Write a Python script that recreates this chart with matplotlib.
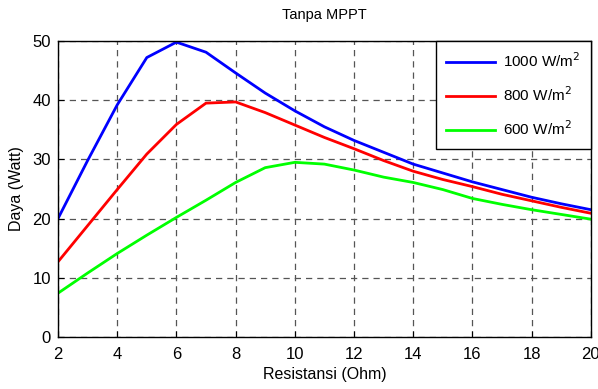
import matplotlib
matplotlib.use("Agg")
import matplotlib.pyplot as plt

plt.rcParams['font.family'] = ['Liberation Sans', 'DejaVu Sans']

resistance = list(range(2, 21))
p1000 = [20.0, 29.8, 39.2, 47.2, 49.8, 48.1, 44.6, 41.2, 38.2, 35.5, 33.2, 31.2, 29.2, 27.7, 26.2, 24.9, 23.6, 22.5, 21.5]
p800 = [12.7, 18.8, 24.9, 30.9, 35.9, 39.5, 39.7, 37.9, 35.8, 33.7, 31.8, 29.8, 28.0, 26.6, 25.4, 24.1, 23.0, 21.9, 20.9]
p600 = [7.4, 10.8, 14.1, 17.2, 20.2, 23.1, 26.1, 28.6, 29.5, 29.2, 28.2, 27.0, 26.1, 24.9, 23.4, 22.4, 21.5, 20.7, 19.9]
labels = ['1000 W/m$^2$', '800 W/m$^2$', '600 W/m$^2$']
xticks = [2, 4, 6, 8, 10, 12, 14, 16, 18, 20]
yticks = [0, 10, 20, 30, 40, 50]

fig = plt.figure(figsize=(5.98, 3.89), dpi=100)
ax = fig.add_axes([0.097, 0.1337, 0.891, 0.761])
ax.plot(resistance, p1000, color='#0000ff', lw=2, label=labels[0])
ax.plot(resistance, p800, color='#ff0000', lw=2, label=labels[1])
ax.plot(resistance, p600, color='#00ff00', lw=2, label=labels[2])
ax.set_xlim(2, 20)
ax.set_ylim(0, 50)
ax.set_xticks(xticks)
ax.set_yticks(yticks)
ax.grid(True, color='#555555', linestyle=(0, (5, 4)), linewidth=0.9)
ax.tick_params(direction='in', labelsize=12, length=4)
ax.tick_params(axis='x', pad=7)
ax.tick_params(axis='y', pad=5)
for s in ax.spines.values():
    s.set_linewidth(1.0)
ax.set_title('Tanpa MPPT', fontsize=10.5, pad=16)
ax.set_xlabel('Resistansi (Ohm)', fontsize=11.5, labelpad=4)
ax.set_ylabel('Daya (Watt)', fontsize=11.5, labelpad=6)
leg = ax.legend(loc='upper right', fontsize=11, fancybox=False, framealpha=1,
                edgecolor='black', borderaxespad=0, handlelength=3.2, labelspacing=1.0,
                borderpad=0.7, handletextpad=0.5)
leg.get_frame().set_linewidth(1.0)
fig.savefig('out.png', dpi=100)
